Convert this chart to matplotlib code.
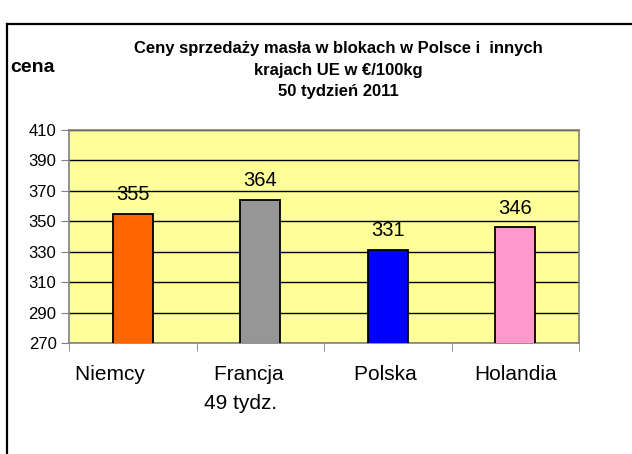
import numpy as np
import matplotlib
matplotlib.use("Agg")
import matplotlib.pyplot as plt
from matplotlib.lines import Line2D

plt.rcParams['font.family'] = ['Liberation Sans', 'DejaVu Sans']

# Données
kraje = ["Niemcy        ", "Francja    \n49 tydz.       ", "Polska ", "Holandia"]
ceny = [355, 364, 331, 346]
kolory = ["#FF6600", "#969696", "#0000FF", "#FF99CC"]
yticks = np.arange(270, 411, 20)

tytul = "Ceny sprzedaży masła w blokach w Polsce i  innych\nkrajach UE w €/100kg\n50 tydzień 2011"

fig = plt.figure(figsize=(6.32, 4.54), dpi=100)
ax = fig.add_axes([69 / 632, 1 - 343 / 454, 510 / 632, 213 / 454])

x = np.arange(len(kraje))
ax.set_facecolor("#FFFF99")
ax.set_axisbelow(True)
ax.yaxis.grid(True, color="black", linewidth=1.0)
bary = ax.bar(x, ceny, width=0.31, color=kolory, edgecolor="black", linewidth=1.3, zorder=3)

# etykiety wartości
for xi, v in zip(x, ceny):
    ax.annotate(str(v), (xi, v), xytext=(0, 7), textcoords="offset points",
                ha="center", va="bottom", fontsize=14.5)

ax.set_ylim(270, 410)
ax.set_xlim(-0.5, len(kraje) - 0.5)
ax.set_yticks(yticks)
ax.tick_params(axis="y", labelsize=12, length=6, color="#808080", pad=3)

ax.set_xticks(x)
ax.set_xticklabels(kraje, fontsize=15, linespacing=1.65)
ax.set_xticks(np.arange(-0.5, len(kraje)), minor=True)
ax.tick_params(axis="x", which="major", length=0, pad=16)
ax.tick_params(axis="x", which="minor", length=6, color="#808080")

for s in ax.spines.values():
    s.set_color("#808080")
    s.set_linewidth(1.2)

# tytuł i opis osi
fig.text(338 / 632, 1 - 70 / 454, tytul, ha="center", va="center",
         fontsize=12, fontweight="bold", linespacing=1.55)
fig.text(10 / 632, 1 - 68 / 454, "cena", ha="left", va="center",
         fontsize=14, fontweight="bold")

# ramka wykresu
fig.add_artist(Line2D([7 / 632, 7 / 632], [-0.1, 1 - 24 / 454], color="black", linewidth=1.6,
                      transform=fig.transFigure))
fig.add_artist(Line2D([7 / 632, 1.1], [1 - 24 / 454, 1 - 24 / 454], color="black", linewidth=1.6,
                      transform=fig.transFigure))

fig.savefig("out.png", dpi=100)
